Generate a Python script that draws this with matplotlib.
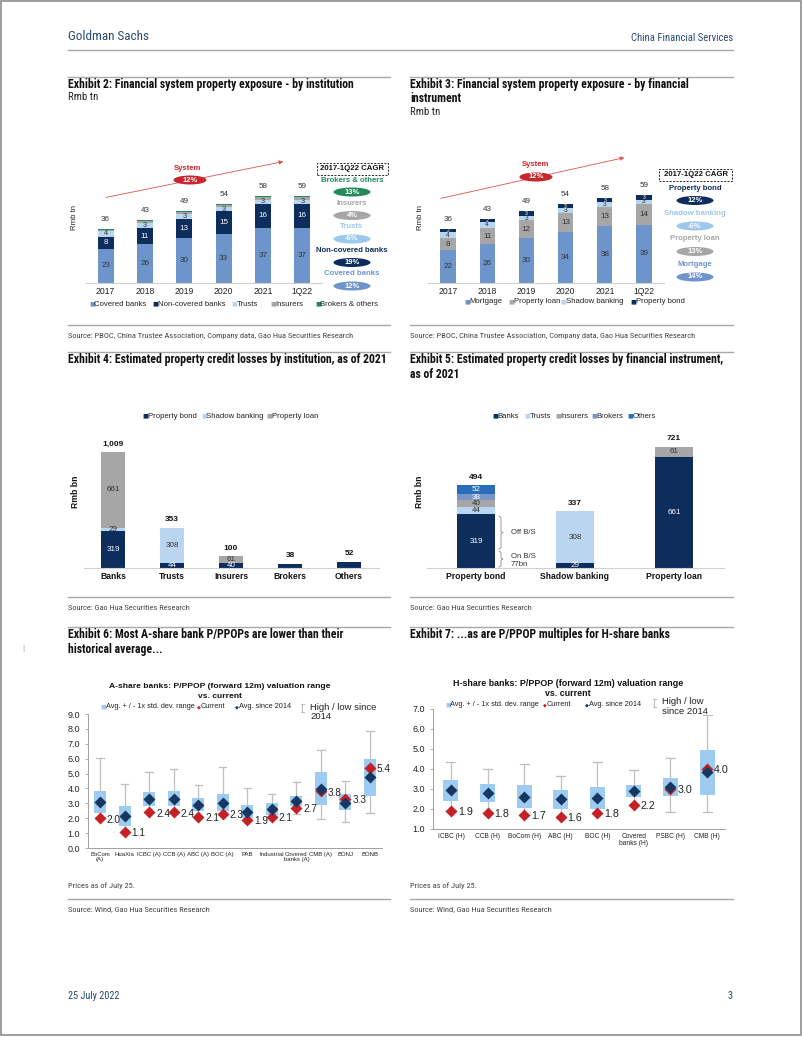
import matplotlib
matplotlib.use("Agg")
import matplotlib.pyplot as plt
from matplotlib.lines import Line2D
from matplotlib.patches import Ellipse, Rectangle, FancyArrowPatch
import numpy as np
import warnings
warnings.filterwarnings('ignore')

W, H = 802, 1037
NARROW = ['Liberation Sans Narrow', 'DejaVu Sans Condensed', 'Roboto Condensed', 'Liberation Sans']
ARIAL = ['Liberation Sans', 'DejaVu Sans']
plt.rcParams['font.family'] = ARIAL

# ---------------- colours ----------------
NAVY = '#0D2D5C'
MBLUE = '#6E94CC'
LBLUE = '#B9D5EF'
GRAY = '#A6A6A6'
GREEN = '#22895A'
RED = '#C8252C'
BOXBLUE = '#9DCBF2'
AVGC = '#16375F'
CURC = '#C42127'
HEADC = '#2B4A6F'

# ---------------- data: Exhibit 2 ----------------
years = ['2017', '2018', '2019', '2020', '2021', '1Q22']
ex2_covered = [23, 26, 30, 33, 37, 37]
ex2_noncovered = [8, 11, 13, 15, 16, 16]
ex2_trusts = [4, 3, 3, 3, 3, 3]
ex2_insurers = [0.7, 1.5, 1.6, 1.6, 1.4, 1.6]
ex2_brokers = [0.5, 0.7, 0.7, 0.7, 0.7, 0.7]
ex2_totals = [36, 43, 49, 54, 58, 59]
ex2_cagr_names = ['Brokers & others', 'Insurers', 'Trusts', 'Non-covered banks', 'Covered banks']
ex2_cagr_vals = ['13%', '4%', '-6%', '19%', '12%']

# ---------------- data: Exhibit 3 ----------------
ex3_mortgage = [22, 26, 30, 34, 38, 39]
ex3_proploan = [8, 11, 12, 13, 13, 14]
ex3_shadow = [4, 4, 3, 3, 3, 3]
ex3_bond = [2, 2, 3, 3, 3, 3]
ex3_totals = [36, 43, 49, 54, 58, 59]
ex3_cagr_names = ['Property bond', 'Shadow banking', 'Property loan', 'Mortgage']
ex3_cagr_vals = ['12%', '-6%', '13%', '14%']

# ---------------- data: Exhibit 4 ----------------
ex4_inst = ['Banks', 'Trusts', 'Insurers', 'Brokers', 'Others']
ex4_bond = [319, 44, 40, 38, 52]
ex4_shadow = [29, 308, 0, 0, 0]
ex4_loan = [661, 0, 61, 0, 0]
ex4_totals = ['1,009', '353', '100', '38', '52']

# ---------------- data: Exhibit 5 ----------------
ex5_instr = ['Property bond', 'Shadow banking', 'Property loan']
ex5_banks = [319, 29, 661]
ex5_trusts = [44, 308, 0]
ex5_insurers = [40, 0, 61]
ex5_brokers = [38, 0, 0]
ex5_others = [52, 0, 0]
ex5_totals = ['494', '337', '721']

# ---------------- data: Exhibit 6 ----------------
a_names = ['BoCom\n(A)', 'HuaXia', 'ICBC (A)', 'CCB (A)', 'ABC (A)', 'BOC (A)', 'PAB',
           'Industrial', 'Covered\nbanks (A)', 'CMB (A)', 'BONJ', 'BONB']
a_avg = [3.1, 2.15, 3.3, 3.3, 2.9, 3.05, 2.45, 2.6, 3.15, 3.95, 3.05, 4.75]
a_sd_low = [2.35, 1.5, 2.8, 2.8, 2.5, 2.5, 2.0, 2.25, 2.8, 2.9, 2.55, 3.5]
a_sd_high = [3.85, 2.8, 3.75, 3.8, 3.35, 3.65, 2.9, 3.0, 3.5, 5.1, 3.6, 6.0]
a_cur = [2.0, 1.1, 2.4, 2.4, 2.1, 2.3, 1.9, 2.1, 2.7, 3.8, 3.3, 5.4]
a_high = [6.05, 4.3, 5.1, 5.3, 4.25, 5.45, 4.0, 3.6, 4.45, 6.6, 4.5, 7.85]
a_low = [2.0, 1.1, 2.4, 2.4, 2.05, 2.2, 1.8, 2.0, 2.3, 1.95, 1.75, 2.35]

# ---------------- data: Exhibit 7 ----------------
h_names = ['ICBC (H)', 'CCB (H)', 'BoCom (H)', 'ABC (H)', 'BOC (H)', 'Covered\nbanks (H)',
           'PSBC (H)', 'CMB (H)']
h_avg = [2.95, 2.8, 2.6, 2.5, 2.55, 2.9, 3.1, 3.85]
h_sd_low = [2.4, 2.35, 2.05, 2.0, 2.0, 2.6, 2.65, 2.7]
h_sd_high = [3.45, 3.25, 3.2, 2.95, 3.1, 3.2, 3.55, 4.95]
h_cur = [1.9, 1.8, 1.7, 1.6, 1.8, 2.2, 3.0, 4.0]
h_high = [4.35, 4.0, 4.25, 3.65, 4.35, 3.95, 4.55, 6.7]
h_low = [1.9, 1.8, 1.7, 1.6, 1.75, 2.2, 1.85, 1.85]

fig = plt.figure(figsize=(W / 100, H / 100), dpi=100)
RENDERER = fig.canvas.get_renderer()


def fx(x):
    return x / W


def fy(y):
    return 1 - y / H


def T(x, y, s, **kw):
    kw.setdefault('va', 'center')
    return fig.text(fx(x), fy(y), s, **kw)


def fit_size(s, width, size0=10, **kw):
    t = fig.text(0, 0, s, fontsize=size0, **kw)
    w = t.get_window_extent(renderer=RENDERER).width
    t.remove()
    return size0 * width / w


def hline(x0, x1, y, color='#A8A8A8', lw=1.0):
    fig.add_artist(Line2D([fx(x0), fx(x1)], [fy(y), fy(y)], transform=fig.transFigure,
                          color=color, lw=lw))


def axes_px(x0, y0, x1, y1):
    ax = fig.add_axes([fx(x0), fy(y1), (x1 - x0) / W, (y1 - y0) / H])
    ax.patch.set_alpha(0)
    return ax


def ellipse(x, y, w, h, color, text, tcolor='white', fs=5.5):
    fig.add_artist(Ellipse((fx(x), fy(y)), w / W, h / H, transform=fig.transFigure,
                           facecolor=color, edgecolor='none'))
    T(x, y, text, ha='center', color=tcolor, fontsize=fs, fontweight='bold')


def legend_row(y, xs, colors, labels, fs=5.6):
    for xm, c, lab in zip(xs, colors, labels):
        T(xm, y, '■', ha='center', color=c, fontsize=4.5, family=['DejaVu Sans'])
        T(xm + 2.5, y, lab, ha='left', color='#222222', fontsize=fs)


# ---------------- page frame ----------------
fig.add_artist(Rectangle((0.5 / W, 1 - 1035 / H), 800.5 / W, 1034 / H, transform=fig.transFigure,
                         fill=False, edgecolor='#8C8C8C', lw=1.2))

# ---------------- text sizes fitted to reference widths ----------------
TFS = min(fit_size('Exhibit 2: Financial system property exposure - by institution', 287,
                   fontweight='bold', family=NARROW), 9.5)
SFS = min(fit_size('Source: PBOC, China Trustee Association, Company data, Gao Hua Securities Research',
                   285, family=NARROW), 7)
HFS = min(fit_size('Goldman Sachs', 82, family=NARROW), 11)
CFS = min(fit_size('China Financial Services', 101, family=NARROW), 8.5)
DFS = min(fit_size('25 July 2022', 51, family=NARROW), 9)
RFS = min(fit_size('Rmb tn', 30, family=NARROW), 8.5)

# ---------------- header / footer ----------------
T(68, 37, 'Goldman Sachs', fontsize=HFS, color=HEADC, family=NARROW)
T(733, 38, 'China Financial Services', fontsize=CFS, color=HEADC, family=NARROW, ha='right')
hline(68, 733, 50)
T(68, 996, '25 July 2022', fontsize=DFS, color=HEADC, family=NARROW)
T(733, 996, '3', fontsize=DFS, color=HEADC, family=NARROW, ha='right')
T(23, 648, '|', fontsize=6, color='#999999', ha='center')

LX0, LX1, RX0, RX1 = 68, 390, 410, 733


def title(x0, x1, yline, lines, sub=None):
    hline(x0, x1, yline)
    y = yline + 7.5
    for ln in lines:
        T(x0, y, ln, fontsize=TFS, fontweight='bold', family=NARROW, color='#111111')
        y += 14.5
    if sub:
        T(x0, y - 1.5, sub, fontsize=RFS, family=NARROW, color='#222222')


def source(x0, x1, yline, text, yoff=11):
    hline(x0, x1, yline)
    T(x0, yline + yoff, text, fontsize=SFS, family=NARROW, color='#444444')


title(LX0, LX1, 77, ['Exhibit 2: Financial system property exposure - by institution'], 'Rmb tn')
title(RX0, RX1, 77, ['Exhibit 3: Financial system property exposure - by financial', 'instrument'],
      'Rmb tn')
src1 = 'Source: PBOC, China Trustee Association, Company data, Gao Hua Securities Research'
source(LX0, LX1, 325, src1)
source(RX0, RX1, 325, src1)
title(LX0, LX1, 352, ['Exhibit 4: Estimated property credit losses by institution, as of 2021'])
title(RX0, RX1, 352, ['Exhibit 5: Estimated property credit losses by financial instrument,',
                      'as of 2021'])
source(LX0, LX1, 597, 'Source: Gao Hua Securities Research')
source(RX0, RX1, 597, 'Source: Gao Hua Securities Research')
title(LX0, LX1, 627, ['Exhibit 6: Most A-share bank P/PPOPs are lower than their',
                      'historical average...'])
title(RX0, RX1, 627, ['Exhibit 7: ...as are P/PPOP multiples for H-share banks'])
T(LX0, 886, 'Prices as of July 25.', fontsize=SFS, family=NARROW, color='#444444')
T(RX0, 886, 'Prices as of July 25.', fontsize=SFS, family=NARROW, color='#444444')
source(LX0, LX1, 899, 'Source: Wind, Gao Hua Securities Research', yoff=10)
source(RX0, RX1, 899, 'Source: Wind, Gao Hua Securities Research', yoff=10)


def clean(ax):
    for s in ['top', 'right', 'left']:
        ax.spines[s].set_visible(False)
    ax.spines['bottom'].set_color('#D0D0D0')
    ax.spines['bottom'].set_linewidth(0.8)
    ax.set_yticks([])
    ax.tick_params(axis='x', length=0, pad=3)


def stacked(ax, series, colors, tcolors, width, fss):
    x = np.arange(len(series[0]))
    bottom = np.zeros(len(x))
    for vals, c, tc, fs in zip(series, colors, tcolors, fss):
        vals = np.array(vals, dtype=float)
        ax.bar(x, vals, width, bottom=bottom, color=c, edgecolor='none', zorder=2)
        if tc is not None:
            for xi, b, v in zip(x, bottom, vals):
                ax.text(xi, b + v / 2, f'{v:g}', ha='center', va='center', fontsize=fs,
                        color=tc, zorder=3)
        bottom = bottom + vals
    return x, bottom


# ---------------- Exhibit 2 chart ----------------
ax2 = axes_px(86, 160, 322, 283)
x, tops = stacked(ax2, [ex2_covered, ex2_noncovered, ex2_trusts, ex2_insurers, ex2_brokers],
                  [MBLUE, NAVY, LBLUE, GRAY, GREEN], ['#333333', 'white', '#333333', None, None],
                  0.41, [5.8, 5.8, 5.3, 5, 5])
for xi, tp, lab in zip(x, tops, ex2_totals):
    ax2.text(xi, tp + 4, str(lab), ha='center', va='bottom', fontsize=5.8, color='#333333')
ax2.set_xlim(-0.5, 5.5)
ax2.set_ylim(0, 82.5)
ax2.set_xticks(x)
ax2.set_xticklabels(years, fontsize=6.2, color='#222222')
clean(ax2)
T(74, 218, 'Rmb tn', rotation=90, ha='center', fontsize=5.6, color='#222222')
fig.add_artist(FancyArrowPatch((fx(103), fy(198)), (fx(286), fy(161)), transform=fig.transFigure,
                               arrowstyle='-|>', mutation_scale=6, color='#D9534F', lw=0.6))
T(188, 169, 'System', ha='center', fontsize=5.6, color=RED, fontweight='bold')
ellipse(190, 180, 33, 9, RED, '12%')
fig.add_artist(Rectangle((fx(317), fy(174.5)), 71 / W, 11.5 / H, transform=fig.transFigure,
                         fill=False, edgecolor='#222222', lw=0.7, ls=(0, (2, 1.5))))
T(352.5, 168.5, '2017-1Q22 CAGR', ha='center', fontsize=5.6, fontweight='bold', color='#111111')
ex2_cols = [GREEN, GRAY, '#9CC8EE', NAVY, MBLUE]
for i, (nm, v, c) in enumerate(zip(ex2_cagr_names, ex2_cagr_vals, ex2_cols)):
    yy = 180 + i * 23.5
    T(352, yy, nm, ha='center', fontsize=5.6, fontweight='bold', color=c)
    ellipse(352, yy + 12, 37, 9, c, v)
legend_row(304, [92, 155, 234, 273, 318], [MBLUE, NAVY, LBLUE, GRAY, GREEN],
           ['Covered banks', 'Non-covered banks', 'Trusts', 'Insurers', 'Brokers & others'])

# ---------------- Exhibit 3 chart ----------------
ax3 = axes_px(428.4, 160, 663.6, 283)
x, tops = stacked(ax3, [ex3_mortgage, ex3_proploan, ex3_shadow, ex3_bond],
                  [MBLUE, GRAY, LBLUE, NAVY], ['#333333', '#333333', '#333333', 'white'],
                  0.39, [5.8, 5.8, 4.8, 3.6])
for xi, tp, lab in zip(x, tops, ex3_totals):
    ax3.text(xi, tp + 4, str(lab), ha='center', va='bottom', fontsize=5.8, color='#333333')
ax3.set_xlim(-0.5, 5.5)
ax3.set_ylim(0, 82.5)
ax3.set_xticks(x)
ax3.set_xticklabels(years, fontsize=6.2, color='#222222')
clean(ax3)
T(420, 218, 'Rmb tn', rotation=90, ha='center', fontsize=5.6, color='#222222')
fig.add_artist(FancyArrowPatch((fx(438), fy(199)), (fx(627), fy(157)), transform=fig.transFigure,
                               arrowstyle='-|>', mutation_scale=6, color='#D9534F', lw=0.6))
T(535, 165, 'System', ha='center', fontsize=5.6, color=RED, fontweight='bold')
ellipse(536, 177, 33, 9, RED, '12%')
fig.add_artist(Rectangle((fx(659), fy(181)), 73 / W, 12 / H, transform=fig.transFigure,
                         fill=False, edgecolor='#222222', lw=0.7, ls=(0, (2, 1.5))))
T(695.5, 175, '2017-1Q22 CAGR', ha='center', fontsize=5.6, fontweight='bold', color='#111111')
ex3_cols = [NAVY, '#9CC8EE', GRAY, MBLUE]
for i, (nm, v, c) in enumerate(zip(ex3_cagr_names, ex3_cagr_vals, ex3_cols)):
    yy = 188 + i * 25.5
    T(695, yy, nm, ha='center', fontsize=5.6, fontweight='bold', color=c)
    ellipse(695, yy + 12.5, 37, 9, c, v)
legend_row(302, [467, 511, 563, 633], [MBLUE, GRAY, LBLUE, NAVY],
           ['Mortgage', 'Property loan', 'Shadow banking', 'Property bond'])

# ---------------- Exhibit 4 chart ----------------
ax4 = axes_px(83.5, 430, 378.5, 568)
x = np.arange(len(ex4_inst))
b = np.zeros(len(x))
for vals, c in zip([ex4_bond, ex4_shadow, ex4_loan], [NAVY, LBLUE, GRAY]):
    ax4.bar(x, vals, 0.41, bottom=b, color=c, edgecolor='none', zorder=2)
    b = b + np.array(vals)
seg_lbls = [(0, ex4_bond[0] / 2, ex4_bond[0], 'white'),
            (0, ex4_bond[0] + ex4_shadow[0] / 2, ex4_shadow[0], '#333333'),
            (0, ex4_bond[0] + ex4_shadow[0] + ex4_loan[0] / 2, ex4_loan[0], '#333333'),
            (1, ex4_bond[1] / 2, ex4_bond[1], 'white'),
            (1, ex4_bond[1] + ex4_shadow[1] / 2, ex4_shadow[1], '#333333'),
            (2, ex4_bond[2] / 2, ex4_bond[2], 'white'),
            (2, ex4_bond[2] + ex4_loan[2] / 2, ex4_loan[2], '#333333')]
for xi, yv, s, c in seg_lbls:
    ax4.text(xi, yv, str(s), ha='center', va='center', fontsize=5.8, color=c, zorder=3)
for xi, tp, lab in zip(x, b, ex4_totals):
    ax4.text(xi, tp + 40, lab, ha='center', va='bottom', fontsize=6, fontweight='bold', color='#111111')
ax4.set_xlim(-0.5, 4.5)
ax4.set_ylim(0, 1200)
ax4.set_xticks(x)
ax4.set_xticklabels(ex4_inst, fontsize=6.2, fontweight='bold', color='#111111')
clean(ax4)
T(75, 492, 'Rmb bn', rotation=90, ha='center', fontsize=6.2, fontweight='bold', color='#111111')
legend_row(416, [145, 204, 269], [NAVY, LBLUE, GRAY], ['Property bond', 'Shadow banking', 'Property loan'])

# ---------------- Exhibit 5 chart ----------------
ax5 = axes_px(426.5, 425, 723.5, 568)
x = np.arange(len(ex5_instr))
b = np.zeros(len(x))
ex5_cols = [NAVY, LBLUE, GRAY, '#7A96C6', '#2A6EBB']
ex5_tc = ['white', '#333333', '#333333', 'white', 'white']
for vals, c, tc in zip([ex5_banks, ex5_trusts, ex5_insurers, ex5_brokers, ex5_others], ex5_cols, ex5_tc):
    vals = np.array(vals, dtype=float)
    ax5.bar(x, vals, 0.39, bottom=b, color=c, edgecolor='none', zorder=2)
    for xi, bb, v in zip(x, b, vals):
        if v > 0:
            ax5.text(xi, bb + v / 2, f'{v:g}', ha='center', va='center', fontsize=5.8, color=tc, zorder=3)
    b = b + vals
for xi, tp, lab in zip(x, b, ex5_totals):
    ax5.text(xi, tp + 25, lab, ha='center', va='bottom', fontsize=6, fontweight='bold', color='#111111')
ax5.set_xlim(-0.5, 2.5)
ax5.set_ylim(0, 850)
ax5.set_xticks(x)
ax5.set_xticklabels(ex5_instr, fontsize=6.2, fontweight='bold', color='#111111')
clean(ax5)
T(420, 492, 'Rmb bn', rotation=90, ha='center', fontsize=6.2, fontweight='bold', color='#111111')
legend_row(416, [495, 527, 558, 594, 630], ex5_cols, ['Banks', 'Trusts', 'Insurers', 'Brokers', 'Others'])
bc = '#888888'
for (ya, yb) in [(516, 549), (551, 567)]:
    ym = (ya + yb) / 2
    fig.add_artist(Line2D([fx(499), fx(501), fx(501), fx(503), fx(501), fx(501), fx(499)],
                          [fy(ya), fy(ya + 1.5), fy(ym - 1), fy(ym), fy(ym + 1), fy(yb - 1.5), fy(yb)],
                          transform=fig.transFigure, color=bc, lw=0.6))
T(511, 532, 'Off B/S', fontsize=5.6, color='#333333')
T(511, 557, 'On B/S', fontsize=5.6, color='#333333')
T(511, 564.5, '77bn', fontsize=5.6, color='#333333')


# ---------------- Exhibit 6 / 7 range charts ----------------
def range_chart(ax, names, avg, sdl, sdh, cur, hi, lo, bw, ylim, fs_tick, fs_lab, fs_x):
    x = np.arange(len(names))
    capw = bw * 0.3
    for xi, h, l in zip(x, hi, lo):
        ax.plot([xi, xi], [l, h], color='#BFBFBF', lw=0.9, zorder=1)
        ax.plot([xi - capw, xi + capw], [h, h], color='#BFBFBF', lw=0.9, zorder=1)
        ax.plot([xi - capw, xi + capw], [l, l], color='#BFBFBF', lw=0.9, zorder=1)
    ax.bar(x, np.array(sdh) - np.array(sdl), bw, bottom=sdl, color=BOXBLUE, edgecolor='none', zorder=2)
    ax.plot(x, cur, 'D', color=CURC, ms=5.8, mec='none', zorder=3)
    ax.plot(x, avg, 'D', color=AVGC, ms=5.8, mec='none', zorder=4)
    for xi, c in zip(x, cur):
        ax.annotate(f'{c:.1f}', (xi, c), xytext=(5, -1), textcoords='offset points',
                    ha='left', va='center', fontsize=fs_lab, color='#222222', zorder=5)
    ax.set_xlim(-0.5, len(names) - 0.5)
    ax.set_ylim(*ylim)
    ticks = np.arange(ylim[0], ylim[1] + 0.01, 1.0)
    ax.set_yticks(ticks)
    ax.set_yticklabels([f'{v:.1f}' for v in ticks], fontsize=fs_tick)
    ax.set_xticks(x)
    ax.set_xticklabels(names, fontsize=fs_x, color='#222222', linespacing=0.95)
    for s in ['top', 'right']:
        ax.spines[s].set_visible(False)
    for s in ['left', 'bottom']:
        ax.spines[s].set_color('#A0A0A0')
        ax.spines[s].set_linewidth(0.7)
    ax.tick_params(axis='y', length=2.5, width=0.6, color='#A0A0A0', pad=3, labelcolor='#222222')
    ax.tick_params(axis='x', length=0, pad=3)


def range_legend(x_box, x_cur, x_avg, x_hl, y, hl_lines, y_hl):
    T(x_box, y, '■', ha='center', color=BOXBLUE, fontsize=4.5, family=['DejaVu Sans'])
    T(x_box + 2.5, y, 'Avg. + / - 1x std. dev. range', fontsize=5.3, color='#222222')
    T(x_cur, y, '◆', ha='center', color=CURC, fontsize=3.5, family=['DejaVu Sans'])
    T(x_cur + 2, y, 'Current', fontsize=5.3, color='#222222')
    T(x_avg, y, '◆', ha='center', color=AVGC, fontsize=3.5, family=['DejaVu Sans'])
    T(x_avg + 2, y, 'Avg. since 2014', fontsize=5.3, color='#222222')
    ya, yb = y_hl[0] - 3, y_hl[0] + 5
    fig.add_artist(Line2D([fx(x_hl), fx(x_hl)], [fy(ya), fy(yb)], transform=fig.transFigure,
                          color='#BFBFBF', lw=0.8))
    for yy in (ya, yb):
        fig.add_artist(Line2D([fx(x_hl - 1.5), fx(x_hl + 1.5)], [fy(yy), fy(yy)],
                              transform=fig.transFigure, color='#BFBFBF', lw=0.8))
    for ln, yy in zip(hl_lines, y_hl):
        T(x_hl + 8, yy, ln, fontsize=6.8, color='#222222')


ax6 = axes_px(87.7, 714, 382.3, 848)
range_chart(ax6, a_names, a_avg, a_sd_low, a_sd_high, a_cur, a_high, a_low, 0.49, (0, 9),
            6.5, 7.2, 4.3)
T(220, 687, 'A-share banks: P/PPOP (forward 12m) valuation range', ha='center', fontsize=6.1,
  fontweight='bold', color='#111111')
T(220, 696.5, 'vs. current', ha='center', fontsize=6.1, fontweight='bold', color='#111111')
range_legend(103, 199, 237, 302, 707, ['High / low since', '2014'], [707, 716.5])

ax7 = axes_px(432.7, 709, 725.3, 829)
range_chart(ax7, h_names, h_avg, h_sd_low, h_sd_high, h_cur, h_high, h_low, 0.41, (1, 7),
            6.5, 7.7, 4.8)
T(568, 684, 'H-share banks: P/PPOP (forward 12m) valuation range', ha='center', fontsize=6.4,
  fontweight='bold', color='#111111')
T(568, 694, 'vs. current', ha='center', fontsize=6.4, fontweight='bold', color='#111111')
range_legend(448, 545, 587, 654, 705, ['High / low', 'since 2014'], [702, 712])

fig.savefig('out.png', dpi=100, facecolor='white')
